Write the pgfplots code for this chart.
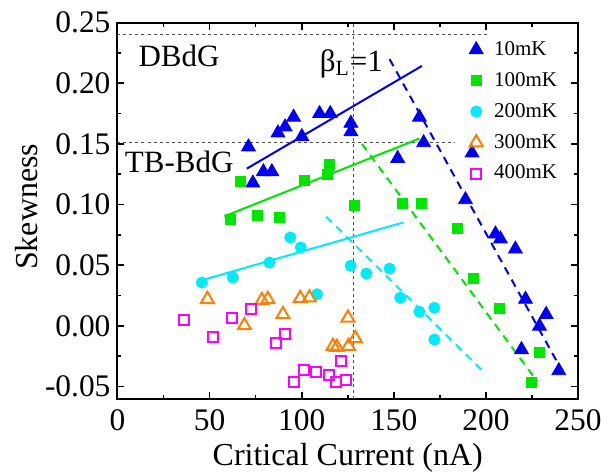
\documentclass[border=0pt]{standalone}
\usepackage{fontspec}
\setmainfont{Liberation Serif}
\usepackage{pgfplots}
\pgfplotsset{compat=1.18}
\definecolor{cblue}{RGB}{0,0,240}
\definecolor{cgreen}{RGB}{0,230,0}
\definecolor{ccyan}{RGB}{0,235,250}
\definecolor{corange}{RGB}{255,128,0}
\definecolor{cmag}{RGB}{255,0,255}
\begin{document}
\begin{tikzpicture}
\useasboundingbox (-58.75pt,-36.7pt) rectangle (248.75pt,199.3pt);
\begin{axis}[
  at={(0pt,0pt)}, anchor=south west,
  scale only axis, width=230.25pt, height=188pt,
  xmin=0, xmax=250, ymin=-0.06, ymax=0.25,
  xtick={0,50,100,150,200,250},
  ytick={-0.05,0,0.05,0.1,0.15,0.2,0.25},
  minor x tick num=1, minor y tick num=1,
  tick align=inside,
  major tick length=3.5pt, minor tick length=2pt,
  axis line style={line width=1pt},
  every tick/.style={line width=0.8pt, black},
  /pgf/number format/assume math mode=true,
  tick label style={font=\fontsize{15.7}{18}\selectfont},
  xticklabel style={yshift=-2pt},
  yticklabel style={/pgf/number format/.cd, fixed, fixed zerofill, precision=2},
  xlabel={Critical Current (nA)}, ylabel={Skewness},
  label style={font=\fontsize{16}{19}\selectfont},
  xlabel style={at={(axis description cs:0.5,-0.178)}, anchor=base},
  ylabel style={at={(axis description cs:-0.1748,0.51)}, anchor=base},
  legend style={at={(axis description cs:0.75,0.973)}, anchor=north west,
    draw=none, fill=none, font=\fontsize{10.5}{12}\selectfont, row sep=3pt, column sep=3.5pt},
  legend cell align=left,
]
% reference lines
\addplot[forget plot, gray!60!black, line width=0.5pt, dash pattern=on 1.5pt off 1.5pt] coordinates {(0,0.24) (200.6,0.24)};
\addplot[forget plot, gray!60!black, line width=0.5pt, dash pattern=on 1.5pt off 1.5pt] coordinates {(0,0.151) (183.4,0.151)};
\addplot[forget plot, gray!60!black, line width=0.5pt, dash pattern=on 1.5pt off 1.5pt] coordinates {(128,-0.06) (128,0.25)};
% fit lines
\addplot[forget plot, cblue, line width=1pt] coordinates {(70.2,0.1296) (165.3,0.2143)};
\addplot[forget plot, cblue, line width=1pt, dash pattern=on 4pt off 3pt] coordinates {(147.7,0.2199) (240.5,-0.0348)};
\addplot[forget plot, cgreen, line width=1pt] coordinates {(58.0,0.0903) (163.9,0.1544)};
\addplot[forget plot, cgreen, line width=1pt, dash pattern=on 4pt off 3pt] coordinates {(132.7,0.150) (227.8,-0.0458)};
\addplot[forget plot, ccyan, line width=1pt] coordinates {(45.8,0.0376) (155.3,0.0853)};
\addplot[forget plot, ccyan, line width=1pt, dash pattern=on 4pt off 3pt] coordinates {(113.3,0.090) (197.9,-0.0367)};
% data
\addplot[only marks, mark=triangle*, mark size=4pt, draw=cblue, fill=cblue, mark options={solid, draw=cblue, fill=cblue}] coordinates {
(71.1,0.1475) (73.5,0.1177) (79.2,0.127) (83.8,0.127) (87.1,0.159) (91.0,0.164)
(95.6,0.172) (100.1,0.156) (109.7,0.175) (115.5,0.175) (126.7,0.167) (126.7,0.160)
(152.1,0.138) (163.9,0.172) (166.2,0.151) (188.9,0.104) (192.5,0.1425) (205.2,0.0757)
(207.9,0.0716) (216.0,0.0633) (221.5,0.0219) (232.7,0.0094) (229.1,-0.0003)
(219.3,-0.0196) (239.6,-0.037)};
\addlegendentry{10mK}
\addplot[only marks, mark=square*, mark size=2.5pt, draw=cgreen, fill=cgreen, mark options={solid, draw=cgreen, fill=cgreen}] coordinates {
(61.1,0.0876) (66.6,0.119) (76.2,0.0911) (87.8,0.0895) (101.4,0.120) (113.7,0.125)
(114.9,0.133) (128.7,0.0995) (154.4,0.101) (164.9,0.101) (184.3,0.0807) (193.4,0.0393)
(207.5,0.0141) (229.1,-0.0215) (224.6,-0.0464)};
\addlegendentry{100mK}
\addplot[only marks, mark=*, mark size=2.8pt, draw=ccyan, fill=ccyan, mark options={solid, draw=ccyan, fill=ccyan}] coordinates {
(45.8,0.0357) (62.6,0.0398) (82.5,0.0522) (93.8,0.0729) (99.5,0.0646) (108.3,0.026)
(126.6,0.0495) (135.1,0.0431) (147.7,0.0472) (153.5,0.0232) (163.9,0.0116)
(172,0.0149) (172,-0.0113)};
\addlegendentry{200mK}
\addplot[only marks, mark=triangle, mark size=3.75pt, draw=corange, mark options={solid, draw=corange, fill=none, line width=1pt}] coordinates {
(48.8,0.0219) (68.9,0.0003) (78.4,0.021) (81.6,0.0219) (89.8,0.0094) (99.2,0.0227)
(104.2,0.0232) (125.1,0.0066) (117.0,-0.0168) (119.1,-0.0176) (125.4,-0.0168) (129.1,-0.0104)};
\addlegendentry{300mK}
\addplot[only marks, mark=square, mark size=2.5pt, draw=cmag, mark options={solid, draw=cmag, fill=none, line width=1pt}] coordinates {
(36.3,0.0047) (52.1,-0.0094) (62.4,0.0061) (72.7,0.0136) (86.0,-0.0141) (90.9,-0.0071)
(95.6,-0.0466) (101.5,-0.0361) (107.8,-0.0381) (114.6,-0.0403) (118.8,-0.0466)
(124.0,-0.0444) (121.3,-0.0287)};
\addlegendentry{400mK}
% annotations
\node[anchor=base, font=\fontsize{15.5}{18}\selectfont, inner sep=0pt] at (axis cs:33.4,0.2138) {DBdG};
\node[anchor=base, font=\fontsize{15.5}{18}\selectfont, inner sep=0pt] at (axis cs:33.5,0.1265) {TB-BdG};
\node[anchor=base west, font=\fontsize{15.5}{18}\selectfont, inner sep=0pt] at (axis cs:109.7,0.2096) {β\textsubscript{L}=1};
\end{axis}
\end{tikzpicture}
\end{document}
